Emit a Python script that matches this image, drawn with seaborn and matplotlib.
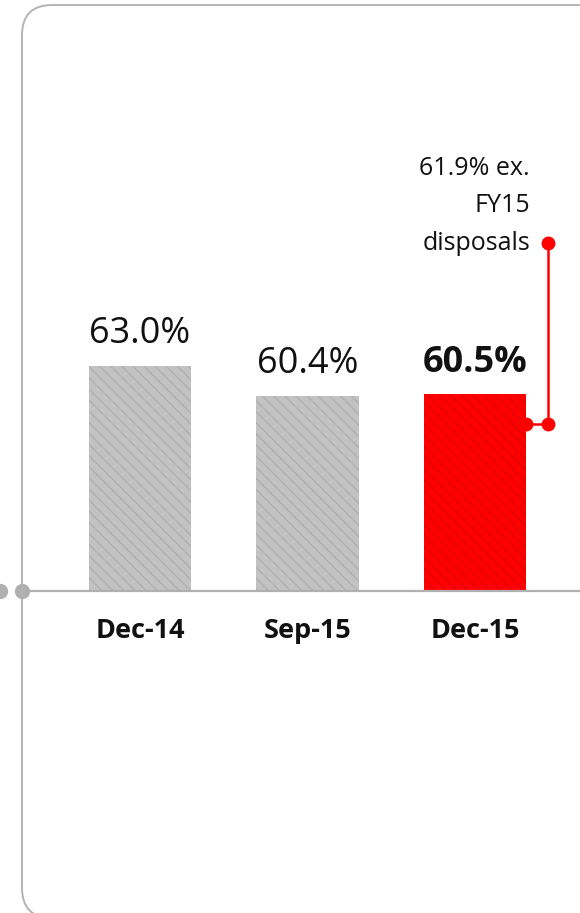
import matplotlib
matplotlib.use("Agg")
import matplotlib.pyplot as plt
import seaborn as sns
import pandas as pd
from matplotlib.patches import FancyBboxPatch

categories = ["Dec-14", "Sep-15", "Dec-15"]
values = [63.0, 60.4, 60.5]
value_labels = ["63.0%", "60.4%", "60.5%"]
annotation_lines = ["61.9% ex.", "FY15", "disposals"]

sns.set_theme(style="white")
plt.rcParams['font.family'] = ['Open Sans', 'DejaVu Sans']

W, H = 580, 913
fig = plt.figure(figsize=(W / 100, H / 100), dpi=100)
ax = fig.add_axes([0, 0, 1, 1])

# pixel mapping helpers
px_per_unit = 11.5
base_px = 591
vmin = 43.4
ytop = vmin + base_px / px_per_unit
ybot = vmin - (H - base_px) / px_per_unit
spacing = 167.5
x0px = 140
xl = -x0px / spacing
xr = (W - x0px) / spacing

df = pd.DataFrame({"cat": categories, "val": values})
sns.barplot(data=df, x="cat", y="val", ax=ax, width=0.61,
            palette=["#c2c2c2", "#c2c2c2", "#ff0000"], hue="cat", legend=False,
            saturation=1)
ax.set_ylim(ybot, ytop)
ax.set_xlim(xl, xr)

plt.rcParams['hatch.linewidth'] = 2.2
hatch_cols = ["#b0b0b0", "#b0b0b0", "#e20000"]
for p, hc in zip(ax.patches, hatch_cols):
    p.set_y(vmin)
    p.set_height(p.get_height() - vmin)
    p.set_hatch("\\\\\\")
    p.set_edgecolor(hc)
    p.set_linewidth(0)

ax.axis("off")

def px2data(xp, yp):
    return xl + xp / W * (xr - xl), ytop - yp / H * (ytop - ybot)

# value labels
for i, (v, lab) in enumerate(zip(values, value_labels)):
    ax.text(i, v + 1.15, lab, ha="center", va="bottom", fontsize=26,
            fontweight="bold" if i == 2 else "normal", color="#111111")

# category labels
for i, c in enumerate(categories):
    xd, yd = px2data(0, 631)
    ax.text(i, yd, c, ha="center", va="center", fontsize=19.5,
            fontweight="bold", color="#111111")

# baseline and grey dots
bx0, by = px2data(22, base_px)
bx1, _ = px2data(W, base_px)
ax.plot([bx0, bx1], [by, by], color="#b0b0b0", lw=1.6, solid_capstyle="butt")
for xp in [0, 22]:
    xd, yd = px2data(xp, base_px)
    ax.plot([xd], [yd], "o", color="#b0b0b0", ms=11, mew=0, clip_on=False)

# red bracket
xa, ya_top = px2data(548, 243)
_, ya_bot = px2data(548, 424)
xb, _ = px2data(526, 424)
ax.plot([xa, xa], [ya_top, ya_bot], color="#ff0000", lw=1.8)
ax.plot([xb, xa], [ya_bot, ya_bot], color="#ff0000", lw=1.8)
ax.plot([xa, xa, xb], [ya_top, ya_bot, ya_bot], "o", color="#ff0000", ms=10, mew=0)

# annotation text
for yp, line in zip([168, 205, 243], annotation_lines):
    xd, yd = px2data(530, yp)
    ax.text(xd, yd, line, ha="right", va="center", fontsize=18, color="#111111")

# rounded frame
frame = FancyBboxPatch((22 / W, -5 / H), (W + 60) / W, (H + 5 - 5) / H,
                       boxstyle="round,pad=0,rounding_size=0.052",
                       transform=fig.transFigure, fill=False,
                       edgecolor="#b4b4b4", lw=1.4, mutation_aspect=W / H)
fig.patches.append(frame)

fig.savefig("out.png", dpi=100)
